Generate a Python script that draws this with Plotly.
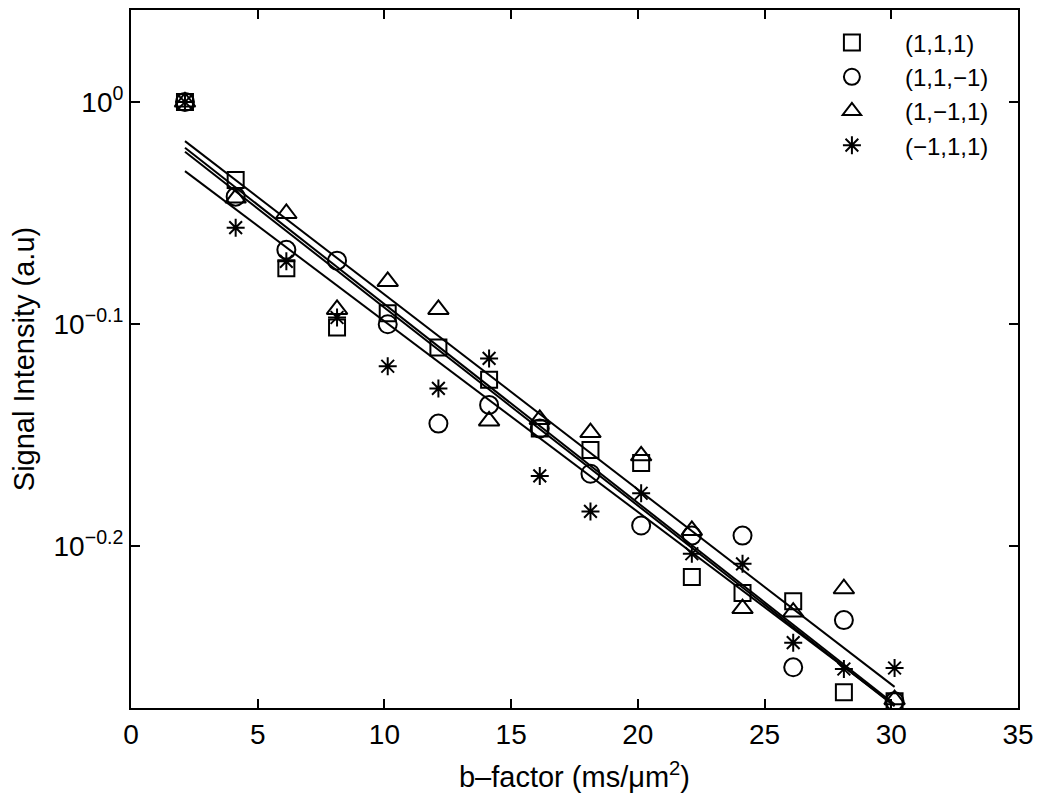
import plotly.graph_objects as go

# b-factor values (ms/um^2)
b_factor = [2.13, 4.13, 6.13, 8.13, 10.13, 12.13, 14.13, 16.13,
            18.13, 20.13, 22.13, 24.13, 26.13, 28.13, 30.13]

# signal intensity for each gradient direction
sig_111 = [1.000, 0.9224, 0.8418, 0.7916, 0.8034, 0.7754, 0.7499, 0.7129,
           0.6973, 0.6879, 0.6113, 0.6013, 0.5961, 0.5425, 0.5374]
sig_11m1 = [1.000, 0.9066, 0.8580, 0.8484, 0.7943, 0.7166, 0.7306, 0.7130,
            0.6803, 0.6448, 0.6381, 0.6381, 0.5567, 0.5846, 0.5374]
sig_1m11 = [1.000, 0.9052, 0.8909, 0.8066, 0.8303, 0.8066, 0.7186, 0.7197,
            0.7100, 0.6931, 0.6415, 0.5916, 0.5895, 0.6039, 0.5383]
sig_m111 = [1.000, 0.8779, 0.8478, 0.7999, 0.7605, 0.7432, 0.7667, 0.6788,
            0.6543, 0.6667, 0.6262, 0.6197, 0.5711, 0.5557, 0.5563]

# fitted mono-exponential lines (end points)
fit_b = [2.13, 30.13]
fit_111 = [0.9537, 0.5358]
fit_11m1 = [0.9497, 0.5347]
fit_1m11 = [0.9603, 0.5455]
fit_m111 = [0.9309, 0.5353]

names = ["(1,1,1)", "(1,1,\u22121)", "(1,\u22121,1)", "(\u22121,1,1)"]
symbols = ["square-open", "circle-open", "triangle-up-open", "asterisk-open"]
sizes = [16, 18, 18, 15]

y_tickvals = [1.0, 10 ** -0.1, 10 ** -0.2]
y_ticktext = ["10<sup>0</sup>", "10<sup>\u22120.1</sup>", "10<sup>\u22120.2</sup>"]

fig = go.Figure()

for fy in [fit_111, fit_11m1, fit_1m11, fit_m111]:
    fig.add_trace(
        go.Scatter(
            x=fit_b,
            y=fy,
            mode="lines",
            line=dict(color="black", width=2),
            showlegend=False,
            hoverinfo="skip"
        )
    )

for sig, name, sym, sz in zip([sig_111, sig_11m1, sig_1m11, sig_m111], names, symbols, sizes):
    fig.add_trace(
        go.Scatter(
            x=b_factor,
            y=sig,
            mode="markers",
            name=name,
            marker=dict(symbol=sym, size=sz, color="black",
                        line=dict(color="black", width=2))
        )
    )

tick_font = dict(family="Liberation Sans, Arial, sans-serif", size=28, color="black")
title_font = dict(family="Liberation Sans, Arial, sans-serif", size=29, color="black")

fig.update_layout(
    width=1050,
    height=804,
    margin=dict(l=131, r=32, t=8, b=96),
    plot_bgcolor="white",
    paper_bgcolor="white",
    font=tick_font,
    legend=dict(
        x=0.753, y=0.985, xanchor="left", yanchor="top",
        bgcolor="rgba(0,0,0,0)",
        font=dict(family="Liberation Sans, Arial, sans-serif", size=24, color="black"),
        itemwidth=96,
        tracegroupgap=0
    )
)

fig.update_xaxes(
    range=[0, 35],
    tickvals=[0, 5, 10, 15, 20, 25, 30, 35],
    ticks="inside", ticklen=9, tickwidth=2, tickcolor="black",
    showline=True, linecolor="black", linewidth=2, mirror="ticks",
    showgrid=False, zeroline=False,
    tickfont=tick_font,
    title=dict(text="b\u2013factor (ms/\u03bcm<sup>2</sup>)", font=title_font, standoff=18)
)

fig.update_yaxes(
    type="log",
    range=[-0.2727, 0.0414],
    tickvals=y_tickvals, ticktext=y_ticktext,
    ticks="inside", ticklen=9, tickwidth=2, tickcolor="black",
    showline=True, linecolor="black", linewidth=2, mirror="ticks",
    showgrid=False, zeroline=False,
    tickfont=tick_font,
    title=dict(text="Signal Intensity (a.u)", font=title_font, standoff=10)
)

fig.write_html(
    "out.html",
    config={"displayModeBar": False},
    post_script="document.body.style.margin='0';"
)
